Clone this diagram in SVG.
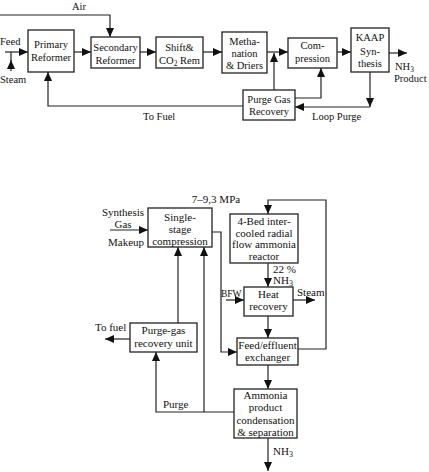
<svg xmlns="http://www.w3.org/2000/svg" width="429" height="472" viewBox="0 0 429 472" font-family="Liberation Serif, Times New Roman, serif">
<defs>
<style>
text{font-family:"Liberation Serif","Times New Roman",serif;fill:#111;}
.t{font-size:10.5px;}
.b{font-size:11px;}
.c{text-anchor:middle;}
rect{fill:#fff;stroke:#222;stroke-width:1.3;}
.conn path{fill:none;stroke:#222;stroke-width:1.2;}
.a{marker-end:url(#arr);}
</style>
<marker id="arr" markerUnits="userSpaceOnUse" markerWidth="9" markerHeight="8" refX="9" refY="4" orient="auto">
<path d="M0,0 L9,4 L0,8 z" fill="#111"/>
</marker>
</defs>
<rect x="0" y="0" width="429" height="472" style="fill:#fff;stroke:none"/>

<g id="connectors" class="conn">
<!-- top -->
<path class="a" d="M0,15 H110 V37"/>
<path class="a" d="M5,52 H28"/>
<path class="a" d="M11,71 V60"/>
<path d="M11,61 V52"/>
<path class="a" d="M74,52 H91"/>
<path class="a" d="M140,52 H156"/>
<path class="a" d="M203,52 H222"/>
<path class="a" d="M267,52 H288"/>
<path class="a" d="M274,90 V53"/>
<path class="a" d="M337,52 H351"/>
<path class="a" d="M389,53 H407"/>
<path class="a" d="M370,72 V107"/>
<path class="a" d="M370,107 H295"/>
<path class="a" d="M295,98 H321 V68"/>
<path class="a" d="M243,106 H48 V72"/>
<!-- bottom -->
<path class="a" d="M110,230 H148"/>
<path class="a" d="M212,232 H221 V352 H237"/>
<path class="a" d="M298,349 H326 V200 H268 V214"/>
<path class="a" d="M268,263 V287"/>
<path class="a" d="M226,300 H244"/>
<path class="a" d="M293,300 H315"/>
<path class="a" d="M268,316 V338"/>
<path class="a" d="M268,365 V389"/>
<path class="a" d="M268,438 V471"/>
<path class="a" d="M234,412 H156 V352"/>
<path class="a" d="M204,412 V247"/>
<path class="a" d="M178,323 V247"/>
<path class="a" d="M130,339 H105"/>
</g>

<g id="labels">
<text class="t" x="72" y="10">Air</text>
<text class="t" x="0" y="45">Feed</text>
<text class="t" x="0" y="83">Steam</text>
<text class="t" x="395" y="70">NH<tspan font-size="7.5" dy="2">3</tspan></text>
<text class="t" x="394" y="82">Product</text>
<text class="t" x="143" y="120">To Fuel</text>
<text class="t" x="312" y="120">Loop Purge</text>
<text class="b c" x="216" y="203">7–9,3 MPa</text>
<text class="b c" x="123" y="216">Synthesis</text>
<text class="b c" x="123" y="228">Gas</text>
<text class="b c" x="126" y="246">Makeup</text>
<text class="b" x="273" y="273">22 %</text>
<text class="b" x="273" y="284">NH<tspan font-size="8" dy="2">3</tspan></text>
<text class="b" x="221" y="297" style="font-size:9.5px">BFW</text>
<text class="b" x="297" y="296">Steam</text>
<text class="b" x="95" y="331">To fuel</text>
<text class="b" x="163" y="408">Purge</text>
<text class="b" x="273" y="455">NH<tspan font-size="8" dy="2">3</tspan></text>
</g>

<g id="primary-reformer">
<rect x="28" y="30" width="46" height="42"/>
<text class="t c" x="51" y="48">Primary</text>
<text class="t c" x="51" y="61">Reformer</text>
</g>
<g id="secondary-reformer">
<rect x="91" y="37" width="49" height="31"/>
<text class="t c" x="115.5" y="51">Secondary</text>
<text class="t c" x="115.5" y="64">Reformer</text>
</g>
<g id="shift">
<rect x="156" y="37" width="47" height="31"/>
<text class="t c" x="179.5" y="51">Shift&amp;</text>
<text class="t c" x="179.5" y="64">CO<tspan font-size="7.5" dy="2">2</tspan><tspan dy="-2"> Rem</tspan></text>
</g>
<g id="methanation">
<rect x="222" y="32" width="45" height="41"/>
<text class="t c" x="244.5" y="45">Metha-</text>
<text class="t c" x="244.5" y="57">nation</text>
<text class="t c" x="244.5" y="69">&amp; Driers</text>
</g>
<g id="compression">
<rect x="288" y="38" width="49" height="30"/>
<text class="t c" x="312.5" y="49">Com-</text>
<text class="t c" x="312.5" y="62">pression</text>
</g>
<g id="kaap">
<rect x="351" y="28" width="38" height="44"/>
<text class="t c" x="370" y="41">KAAP</text>
<text class="t c" x="370" y="55">Syn-</text>
<text class="t c" x="370" y="67">thesis</text>
</g>
<g id="purge-gas-recovery">
<rect x="243" y="90" width="52" height="30"/>
<text class="t c" x="269" y="103">Purge Gas</text>
<text class="t c" x="269" y="115">Recovery</text>
</g>

<g id="single-stage-compression">
<rect x="148" y="208" width="64" height="39"/>
<text class="b c" x="180" y="221">Single-</text>
<text class="b c" x="180" y="233">stage</text>
<text class="b c" x="180" y="245">compression</text>
</g>
<g id="reactor">
<rect x="230" y="214" width="68" height="49"/>
<text class="b c" x="264" y="225">4-Bed inter-</text>
<text class="b c" x="264" y="236.5">cooled radial</text>
<text class="b c" x="264" y="248">flow ammonia</text>
<text class="b c" x="264" y="259.5">reactor</text>
</g>
<g id="heat-recovery">
<rect x="244" y="287" width="49" height="29"/>
<text class="b c" x="268.5" y="298">Heat</text>
<text class="b c" x="268.5" y="310">recovery</text>
</g>
<g id="feed-effluent">
<rect x="237" y="338" width="61" height="27"/>
<text class="b c" x="267.5" y="349">Feed/effluent</text>
<text class="b c" x="267.5" y="361">exchanger</text>
</g>
<g id="ammonia-separation">
<rect x="234" y="389" width="63" height="49"/>
<text class="b c" x="265.5" y="399">Ammonia</text>
<text class="b c" x="265.5" y="411">product</text>
<text class="b c" x="265.5" y="424">condensation</text>
<text class="b c" x="265.5" y="436">&amp; separation</text>
</g>
<g id="purge-gas-recovery-unit">
<rect x="130" y="323" width="67" height="29"/>
<text class="b c" x="163.5" y="334">Purge-gas</text>
<text class="b c" x="163.5" y="347">recovery unit</text>
</g>
</svg>
